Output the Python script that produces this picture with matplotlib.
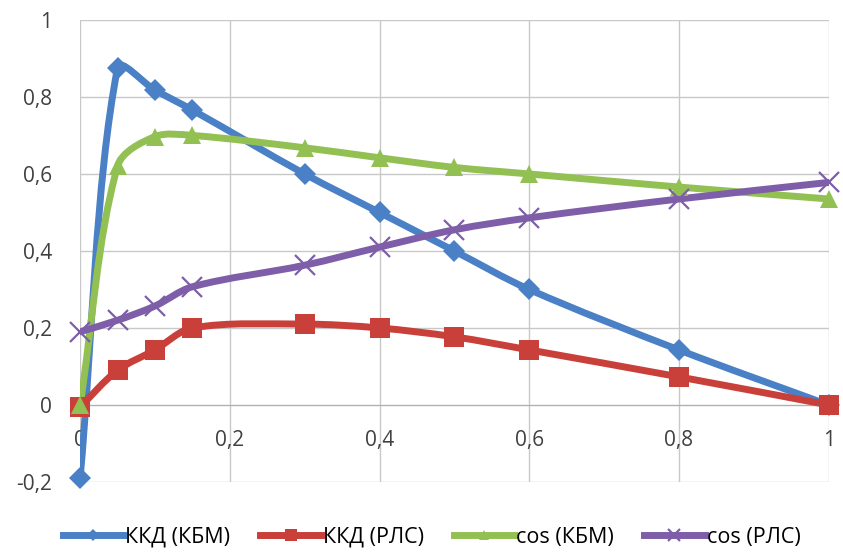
import numpy as np
import matplotlib
matplotlib.use("Agg")
import matplotlib.pyplot as plt
from matplotlib.path import Path
from matplotlib.patches import PathPatch
from matplotlib.lines import Line2D

plt.rcParams['font.family'] = ['Open Sans', 'DejaVu Sans']

# data
x = [0, 0.05, 0.1, 0.15, 0.3, 0.4, 0.5, 0.6, 0.8, 1.0]
kkd_kbm = [-0.19, 0.875, 0.818, 0.766, 0.60, 0.50, 0.40, 0.30, 0.143, 0.0]
kkd_rls = [-0.005, 0.09, 0.143, 0.20, 0.21, 0.20, 0.177, 0.143, 0.073, 0.0]
cos_kbm = [0.0, 0.62, 0.697, 0.70, 0.668, 0.642, 0.617, 0.60, 0.566, 0.535]
cos_rls = [0.19, 0.22, 0.257, 0.307, 0.363, 0.41, 0.455, 0.486, 0.535, 0.578]
labels = ["ККД (КБМ)", "ККД (РЛС)", "cos (КБМ)", "cos (РЛС)"]
xticks = [0, 0.2, 0.4, 0.6, 0.8, 1.0]
xtick_labels = ["0", "0,2", "0,4", "0,6", "0,8", "1"]
yticks = [-0.2, 0, 0.2, 0.4, 0.6, 0.8, 1.0]
ytick_labels = ["-0,2", "0", "0,2", "0,4", "0,6", "0,8", "1"]

colors = ["#4a80c6", "#c9403a", "#93c052", "#7e5ea8"]
markers = ["D", "s", "^", "x"]
msizes = [11, 14, 13, 14]


def smooth_path(ax, xs, ys, t=0.33):
    # Excel-like smoothed line; tangents scaled by chord length in screen space
    trans = ax.transData
    pts = trans.transform(np.column_stack([xs, ys]))
    n = len(pts)
    verts = [pts[0]]
    codes = [Path.MOVETO]

    def tangent(i):
        p0 = pts[max(i - 1, 0)]
        p2 = pts[min(i + 1, n - 1)]
        return p2 - p0

    for i in range(n - 1):
        p1, p2 = pts[i], pts[i + 1]
        seg = np.hypot(*(p2 - p1))
        d_prev = np.hypot(*(p1 - pts[max(i - 1, 0)]))
        d_next = np.hypot(*(pts[min(i + 2, n - 1)] - p2))
        tot1 = d_prev + seg if i > 0 else 2 * seg
        tot2 = seg + d_next if i < n - 2 else 2 * seg
        c1 = p1 + t * tangent(i) * seg / tot1 if i > 0 else p1 + t * (p2 - p1)
        c2 = p2 - t * tangent(i + 1) * seg / tot2 if i < n - 2 else p2 - t * (p2 - p1)
        verts += [c1, c2, p2]
        codes += [Path.CURVE4] * 3
    verts = trans.inverted().transform(np.array(verts))
    return Path(verts, codes)


fig = plt.figure(figsize=(8.43, 5.54), dpi=100)
ax = fig.add_axes([0.095, 0.130, 0.888, 0.834])
ax.set_xlim(0, 1)
ax.set_ylim(-0.2, 1)

series = [kkd_kbm, kkd_rls, cos_kbm, cos_rls]
handles = []
for ys, c, m, ms, lab in zip(series, colors, markers, msizes, labels):
    patch = PathPatch(smooth_path(ax, x, ys), facecolor='none', edgecolor=c,
                      lw=5, capstyle='round', joinstyle='round', zorder=3)
    ax.add_patch(patch)
    mew = 1.6 if m == 'x' else 0
    ax.plot(x, ys, linestyle='none', marker=m, markersize=ms, color=c,
            markeredgewidth=mew, zorder=4, clip_on=False)
    handles.append(Line2D([], [], color=c, lw=5, marker=m,
                          markersize=ms * 0.6, markeredgewidth=mew, label=lab))

ax.set_xticks(xticks)
ax.set_xticklabels(xtick_labels)
ax.set_yticks(yticks)
ax.set_yticklabels(ytick_labels)
ax.grid(True, color='#c8c8c8', lw=1)
ax.set_axisbelow(True)
for s in ['top', 'right', 'left']:
    ax.spines[s].set_visible(False)
ax.spines['bottom'].set_position(('data', 0))
ax.spines['bottom'].set_color('#b0b0b0')
ax.tick_params(axis='both', length=0, labelsize=15, colors='#404040')
ax.tick_params(axis='x', pad=18)
ax.tick_params(axis='y', pad=20)

fig.legend(handles=handles, loc='center', bbox_to_anchor=(0.512, 0.03),
           ncol=4, frameon=False, fontsize=15.5, handlelength=2.8,
           columnspacing=1.4, handletextpad=0.1)

fig.savefig("out.png", dpi=100, facecolor='white')
